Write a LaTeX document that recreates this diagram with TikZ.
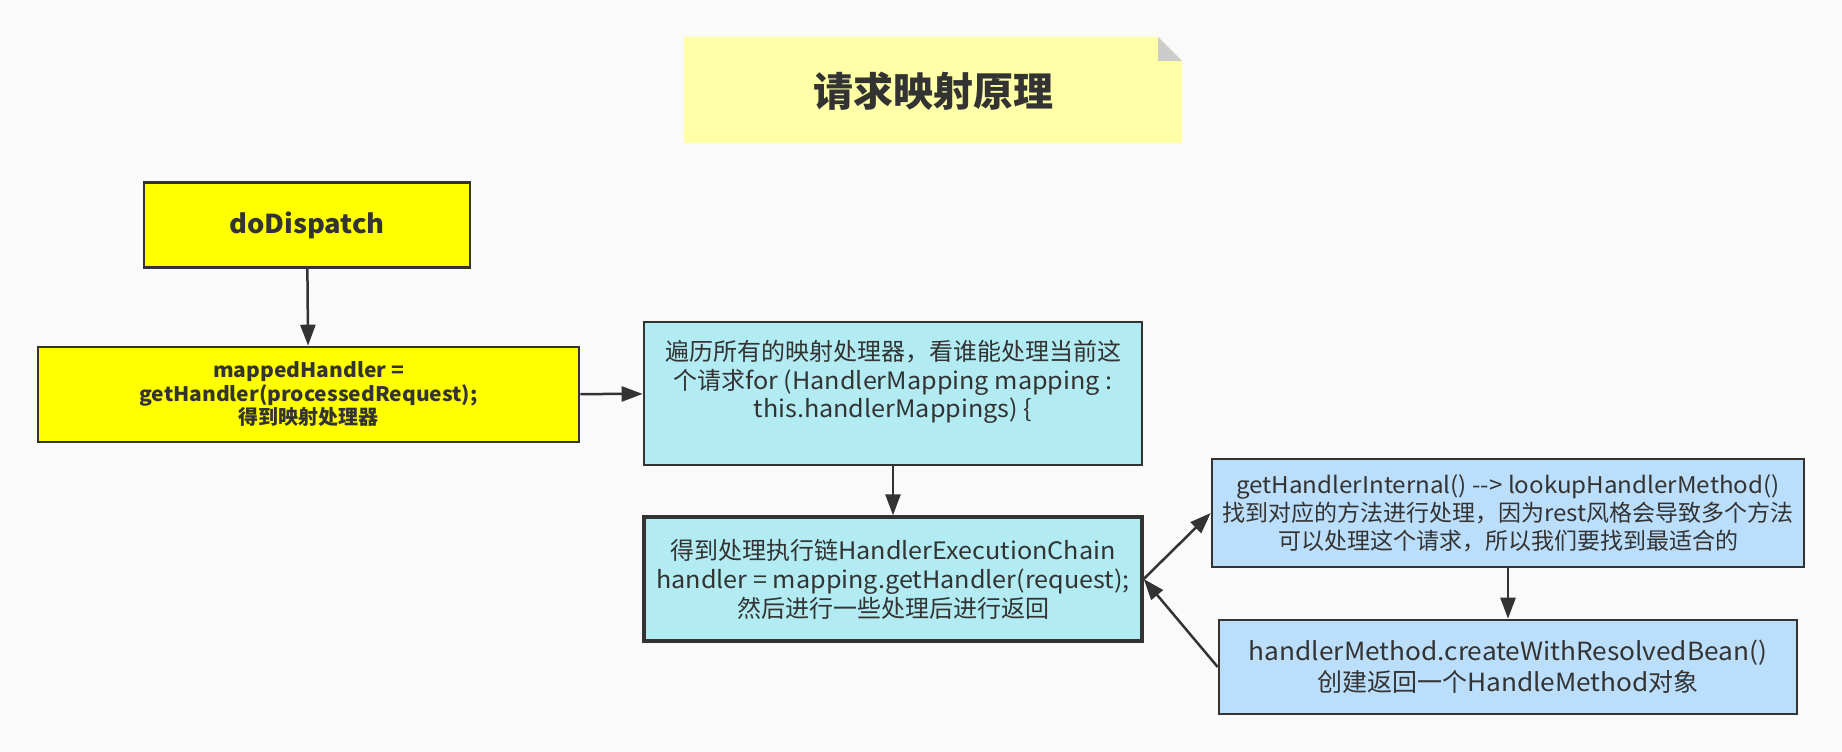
\documentclass[tikz,border=0pt]{standalone}
\usepackage{fontspec}
\setmainfont[FakeStretch=1.05]{Noto Sans CJK SC}
\newfontfamily\cjk{Noto Sans CJK SC}
\usepackage{tikz}
\usetikzlibrary{arrows.meta, positioning, calc}
\usepackage[svgnames,table]{xcolor}

\definecolor{bgc}{HTML}{FAFAFA}
\definecolor{inkc}{HTML}{333333}
\definecolor{notec}{HTML}{FFFFA8}
\definecolor{foldc}{HTML}{CCCCCC}
\definecolor{yelc}{HTML}{FFFF00}
\definecolor{cyanc}{HTML}{B2EBF2}
\definecolor{bluec}{HTML}{BBDEFB}

\begin{document}
\begin{tikzpicture}[x=1pt, y=-1pt,
    box/.style={draw=inkc, line width=2.6pt, text=inkc, align=center, inner sep=0pt},
    link/.style={draw=inkc, line width=2.5pt, -{Triangle[length=21pt, width=15pt]}}]
        \fill[bgc] (0,0) rectangle (1842,752);

        % title note
        \fill[notec] (684,37) -- (1158,37) -- (1182,61) -- (1182,143) -- (684,143) -- cycle;
        \fill[foldc] (1158,37) -- (1182,61) -- (1158,61) -- cycle;
        \node[text=inkc, font=\fontsize{40}{48}\selectfont\bfseries\cjk] (title) at (933,91) {请求映射原理};

        \node[box, fill=yelc, minimum width=326, minimum height=85, font=\fontsize{26}{31}\selectfont\bfseries] (dispatch) at (307,225) {doDispatch};
        \node[box, fill=yelc, minimum width=541, minimum height=95, font=\fontsize{20}{23.5}\selectfont\bfseries] (mapped) at (308.5,394.5)
            {mappedHandler =\\getHandler(processedRequest);\\{\cjk 得到映射处理器}};
        \node[box, fill=cyanc, minimum width=498, minimum height=143, font=\fontsize{24}{28.5}\selectfont] (traverse) at (893,393.5)
            {{\cjk 遍历所有的映射处理器，看谁能处理当前这}\\{\cjk 个请求}for (HandlerMapping mapping :\\this.handlerMappings) \{\\\mbox{}};
        \node[box, fill=cyanc, line width=3.4pt, minimum width=498, minimum height=124, font=\fontsize{24}{29}\selectfont] (chain) at (893,579)
            {{\cjk 得到处理执行链}HandlerExecutionChain\\handler = mapping.getHandler(request);\\{\cjk 然后进行一些处理后进行返回}};
        \node[box, fill=bluec, minimum width=592, minimum height=108, font=\fontsize{23}{28}\selectfont] (lookup) at (1508,513)
            {getHandlerInternal() {-}{-}> lookupHandlerMethod()\\{\cjk 找到对应的方法进行处理，因为}rest{\cjk 风格会导致多个方法}\\{\cjk 可以处理这个请求，所以我们要找到最适合的}};
        \node[box, fill=bluec, minimum width=578, minimum height=94, font=\fontsize{25}{30.5}\selectfont] (create) at (1508,667)
            {handlerMethod.createWithResolvedBean()\\{\cjk 创建返回一个}HandleMethod{\cjk 对象}};

        \draw[link] (dispatch) -- (mapped);
        \draw[link] (mapped) -- (traverse);
        \draw[link] (traverse) -- (chain);
        \draw[link] (chain.east) -- (lookup.west);
        \draw[link] (lookup) -- (create);
        \draw[link] (create.west) -- (chain.east);
    \end{tikzpicture}
\end{document}
